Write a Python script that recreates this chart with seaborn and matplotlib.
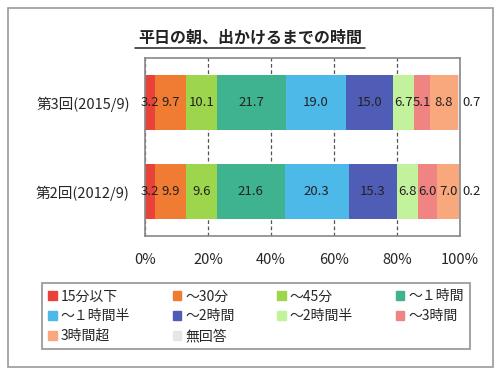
import numpy as np
import pandas as pd
import matplotlib.pyplot as plt
import matplotlib.patches as mpatches
from matplotlib.lines import Line2D
import seaborn as sns

# Data
rounds = ['第3回(2015/9)', '第2回(2012/9)']
bins = ['15分以下', '～30分', '～45分', '～１時間', '～１時間半', '～2時間',
        '～2時間半', '～3時間', '3時間超', '無回答']
r3 = [3.2, 9.7, 10.1, 21.7, 19.0, 15.0, 6.7, 5.1, 8.8, 0.7]
r2 = [3.2, 9.9, 9.6, 21.6, 20.3, 15.3, 6.8, 6.0, 7.0, 0.2]
colors = ['#e8423a', '#f07b32', '#9dd64c', '#3fb38f', '#4cb9e8', '#4f5db6',
          '#c3f29c', '#f08482', '#f8a87c', '#e6e6e6']

sns.set_theme(style='white')
plt.rcParams['font.family'] = ['Noto Sans CJK JP', 'DejaVu Sans']

df = pd.DataFrame([r3, r2], index=rounds, columns=bins)
cum = df.cumsum(axis=1)
cum = cum.div(cum.iloc[:, -1], axis=0) * 100

fig = plt.figure(figsize=(5, 3.75), dpi=100)
ax = fig.add_axes([0.29, 0.371, 0.63, 0.474])

# stacked bars: draw cumulative totals from the last segment back to the first
for i in range(len(bins) - 1, -1, -1):
    sns.barplot(x=cum.iloc[:, i].values, y=rounds, orient='h', color=colors[i],
                width=0.62, saturation=1, ax=ax, linewidth=0)

# value labels
for j, rnd in enumerate(rounds):
    left = 0
    for i, b in enumerate(bins):
        w = cum.loc[rnd].iloc[i] - left
        txt = f'{df.loc[rnd, b]:.1f}'
        if i == len(bins) - 1:
            ax.text(100.6, j, txt, ha='left', va='center', fontsize=9.5, color='#222222')
        else:
            ax.text(left + w / 2, j, txt, ha='center', va='center',
                    fontsize=9.5, color='#222222')
        left = cum.loc[rnd].iloc[i]

ax.set_xlim(0, 100)
ax.set_xticks(range(0, 101, 20))
ax.set_xticklabels([f'{t}%' for t in range(0, 101, 20)], fontsize=10.5)
ax.tick_params(axis='x', pad=12, length=0)
ax.tick_params(axis='y', labelsize=10.5, length=0, pad=11)
ax.xaxis.grid(True, linestyle=(0, (3, 2)), color='#555555', linewidth=0.9)
ax.set_axisbelow(True)
ax.set_xlabel('')
ax.set_ylabel('')
for s in ax.spines.values():
    s.set_color('#888888')
    s.set_linewidth(1.2)

# title with underline
fig.text(0.5, 0.899, '平日の朝、出かけるまでの時間', ha='center', va='center',
         fontsize=11.5, fontweight='bold', color='#222222')
fig.add_artist(Line2D([0.27, 0.73], [0.872, 0.872], color='#222222', lw=1.1))

# legend, row-major order in 4 columns
order = [0, 4, 8, 1, 5, 9, 2, 6, 3, 7]
handles = [mpatches.Patch(color=colors[k], label=bins[k]) for k in order]
leg = fig.legend(handles=handles, loc='upper left', ncol=4,
                 bbox_to_anchor=(0.084, 0.0, 0.856, 0.245), mode='expand',
                 borderaxespad=0, fontsize=10, frameon=True, fancybox=False,
                 borderpad=0.45, handlelength=0.6, handleheight=0.6,
                 handletextpad=0.3, labelspacing=0.42, columnspacing=0.5)
leg.get_frame().set_edgecolor('#777777')
leg.get_frame().set_linewidth(1.2)

# outer frame
fig.add_artist(mpatches.Rectangle((0.016, 0.021), 0.97, 0.957, transform=fig.transFigure,
                                  fill=False, edgecolor='#999999', lw=1.2))

fig.savefig('out.png', dpi=100)
